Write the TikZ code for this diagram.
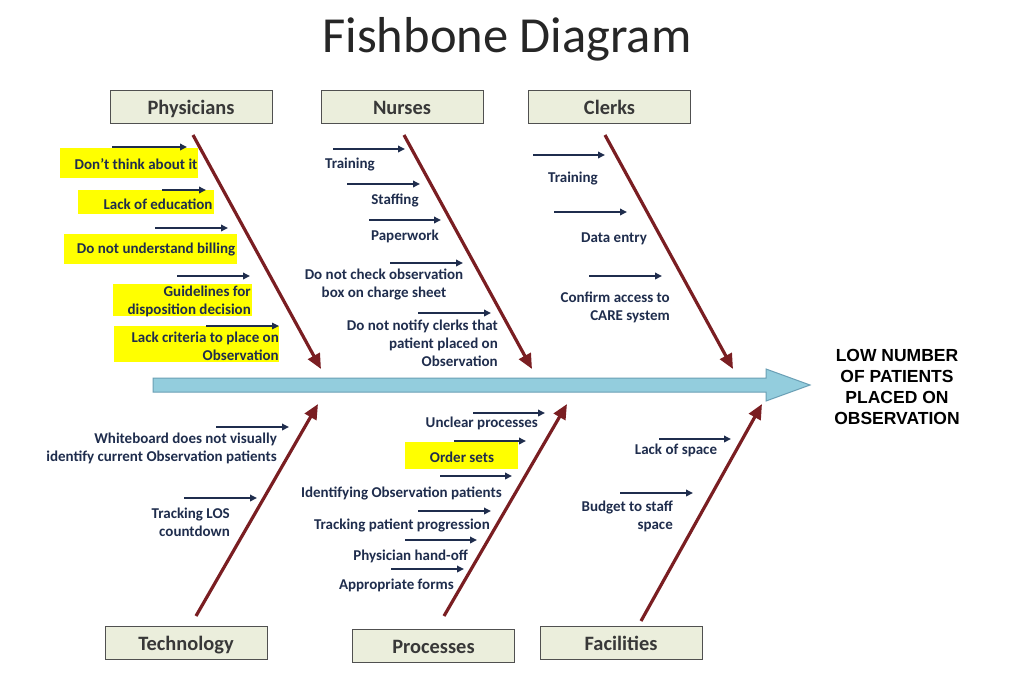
\documentclass[tikz,border=0pt]{standalone}
\usepackage{fontspec}
\setmainfont{Carlito}
\newfontfamily\arialf{Liberation Sans}
\usetikzlibrary{arrows.meta}
\definecolor{boxfill}{HTML}{EBEEDC}
\definecolor{boxdraw}{HTML}{505050}
\definecolor{bone}{HTML}{7A1E22}
\definecolor{navy}{HTML}{1F2D4D}
\definecolor{txt}{HTML}{1F2D4D}
\definecolor{hl}{HTML}{FFFF00}
\definecolor{spinefill}{HTML}{93CDDD}
\definecolor{spinedraw}{HTML}{6A9FB5}
\tikzset{
  cat/.style={draw=boxdraw, fill=boxfill, line width=1pt, minimum width=162pt, minimum height=33pt, inner sep=0pt, text height=17pt, text depth=2pt, font=\fontsize{20.4}{22}\selectfont\bfseries, text=black!78},
  item/.style={font=\fontsize{15}{18}\selectfont\bfseries, text=txt, inner sep=0pt},
  itemr/.style={item, align=right, anchor=east},
  itemc/.style={item, align=center},
  bonearrow/.style={draw=bone, line width=3.2pt, -{Triangle[length=15pt,width=13pt]}},
  sub/.style={draw=navy, line width=1.8pt, -{Triangle[length=7pt,width=6.5pt]}},
  hlbox/.style={fill=hl}
}
\begin{document}
\begin{tikzpicture}[x=1pt,y=-1pt]
\useasboundingbox (0,0) rectangle (1024,683);
\fill[white] (0,0) rectangle (1024,683);

% title
\node[font=\fontsize{50.5}{55}\selectfont, text=black!85] (title) at (507,39) {Fishbone Diagram};

% category boxes
\node[cat] (phys) at (191,106.5) {Physicians};
\node[cat] (nurs) at (402,106.5) {Nurses};
\node[cat] (clrk) at (609.5,106.5) {Clerks};
\node[cat] (tech) at (186,642.5) {Technology};
\node[cat] (proc) at (433.5,645.5) {Processes};
\node[cat] (faci) at (621,642.5) {Facilities};

% spine
\draw[spinedraw, fill=spinefill, line width=1pt]
  (153,378) -- (766,378) -- (766,369) -- (810,385) -- (766,401) -- (766,392) -- (153,392) -- cycle;
\node[font=\arialf\fontsize{17.5}{21}\selectfont\bfseries, align=center, inner sep=0pt] (effect) at (897,387)
  {LOW NUMBER\\OF PATIENTS\\PLACED ON\\OBSERVATION};

% bones
\coordinate (b1s) at (193,135); \coordinate (b1e) at (321,369);
\coordinate (b2s) at (404,135); \coordinate (b2e) at (532,369);
\coordinate (b3s) at (605,135); \coordinate (b3e) at (733,369);
\coordinate (b4s) at (196,616); \coordinate (b4e) at (318,404);
\coordinate (b5s) at (444,616); \coordinate (b5e) at (567,404);
\coordinate (b6s) at (641,621); \coordinate (b6e) at (762,404);
\draw[bonearrow] (b1s) -- (b1e);
\draw[bonearrow] (b2s) -- (b2e);
\draw[bonearrow] (b3s) -- (b3e);
\draw[bonearrow] (b4s) -- (b4e);
\draw[bonearrow] (b5s) -- (b5e);
\draw[bonearrow] (b6s) -- (b6e);

% Physicians highlights
\fill[hlbox] (60,148) rectangle (198,178);
\fill[hlbox] (78,190) rectangle (214,214);
\fill[hlbox] (64,234) rectangle (237,264);
\fill[hlbox] (113,284) rectangle (252,316);
\fill[hlbox] (114,326) rectangle (279,362);
\node[item] (p1) at (136,164) {Don’t think about it};
\node[item] (p2) at (158,204) {Lack of education};
\node[item] (p3) at (156,250) {Do not understand billing};
\node[itemr] (p4) at (251,301) {Guidelines for\\disposition decision};
\node[itemr] (p5) at (279,346) {Lack criteria to place on\\Observation};
\coordinate (p1a) at (112,147); \coordinate (p1b) at (187,147);
\coordinate (p2a) at (162,190); \coordinate (p2b) at (206,190);
\coordinate (p3a) at (155,228); \coordinate (p3b) at (228,228);
\coordinate (p4a) at (177,276); \coordinate (p4b) at (250,276);
\coordinate (p5a) at (206,326); \coordinate (p5b) at (279,326);
\draw[sub] (p1a) -- (p1b);
\draw[sub] (p2a) -- (p2b);
\draw[sub] (p3a) -- (p3b);
\draw[sub] (p4a) -- (p4b);
\draw[sub, line width=1.2pt] (p5a) -- (p5b);

% Nurses
\node[item] (n1) at (350,165) {Training};
\node[item] (n2) at (395,200) {Staffing};
\node[item] (n3) at (405,236) {Paperwork};
\node[itemc] (n4) at (384,284) {Do not check observation\\box on charge sheet};
\node[itemr] (n5) at (498,343) {Do not notify clerks that\\patient placed on\\Observation};
\coordinate (n1a) at (333,149); \coordinate (n1b) at (405,149);
\coordinate (n2a) at (347,184); \coordinate (n2b) at (420,184);
\coordinate (n3a) at (369,220); \coordinate (n3b) at (441,220);
\coordinate (n4a) at (390,263); \coordinate (n4b) at (463,263);
\coordinate (n5a) at (418,313); \coordinate (n5b) at (491,313);
\draw[sub] (n1a) -- (n1b);
\draw[sub] (n2a) -- (n2b);
\draw[sub] (n3a) -- (n3b);
\draw[sub] (n4a) -- (n4b);
\draw[sub] (n5a) -- (n5b);

% Clerks
\node[item] (c1) at (573,179) {Training};
\node[item] (c2) at (614,239) {Data entry};
\node[itemr] (c3) at (670,307) {Confirm access to\\CARE system};
\coordinate (c1a) at (533,155); \coordinate (c1b) at (605,155);
\coordinate (c2a) at (554,212); \coordinate (c2b) at (627,212);
\coordinate (c3a) at (589,276); \coordinate (c3b) at (662,276);
\draw[sub] (c1a) -- (c1b);
\draw[sub] (c2a) -- (c2b);
\draw[sub] (c3a) -- (c3b);

% Technology
\node[itemr] (t1) at (277,448) {Whiteboard does not visually\\identify current Observation patients};
\node[itemr] (t2) at (230,522) {Tracking LOS\\countdown};
\coordinate (t1a) at (216,427); \coordinate (t1b) at (289,427);
\coordinate (t2a) at (184,498); \coordinate (t2b) at (257,498);
\draw[sub] (t1a) -- (t1b);
\draw[sub] (t2a) -- (t2b);

% Processes
\fill[hlbox] (405,442) rectangle (518,469);
\node[itemr] (r1) at (538,423) {Unclear processes};
\node[item] (r2) at (462,457) {Order sets};
\node[itemr] (r3) at (502,493) {Identifying Observation patients};
\node[itemr] (r4) at (490,525) {Tracking patient progression};
\node[itemr] (r5) at (468,556) {Physician hand-off};
\node[itemr] (r6) at (454,585) {Appropriate forms};
\coordinate (r1a) at (473,413); \coordinate (r1b) at (545,413);
\coordinate (r2a) at (454,441); \coordinate (r2b) at (526,441);
\coordinate (r3a) at (440,476); \coordinate (r3b) at (512,476);
\coordinate (r4a) at (418,511); \coordinate (r4b) at (491,511);
\coordinate (r5a) at (405,540); \coordinate (r5b) at (477,540);
\coordinate (r6a) at (391,569); \coordinate (r6b) at (464,569);
\draw[sub] (r1a) -- (r1b);
\draw[sub] (r2a) -- (r2b);
\draw[sub] (r3a) -- (r3b);
\draw[sub] (r4a) -- (r4b);
\draw[sub] (r5a) -- (r5b);
\draw[sub] (r6a) -- (r6b);

% Facilities
\node[item] (f1) at (676,450) {Lack of space};
\node[itemr] (f2) at (673,516) {Budget to staff\\space};
\coordinate (f1a) at (659,439); \coordinate (f1b) at (731,439);
\coordinate (f2a) at (620,493); \coordinate (f2b) at (693,493);
\draw[sub] (f1a) -- (f1b);
\draw[sub] (f2a) -- (f2b);
\end{tikzpicture}
\end{document}
